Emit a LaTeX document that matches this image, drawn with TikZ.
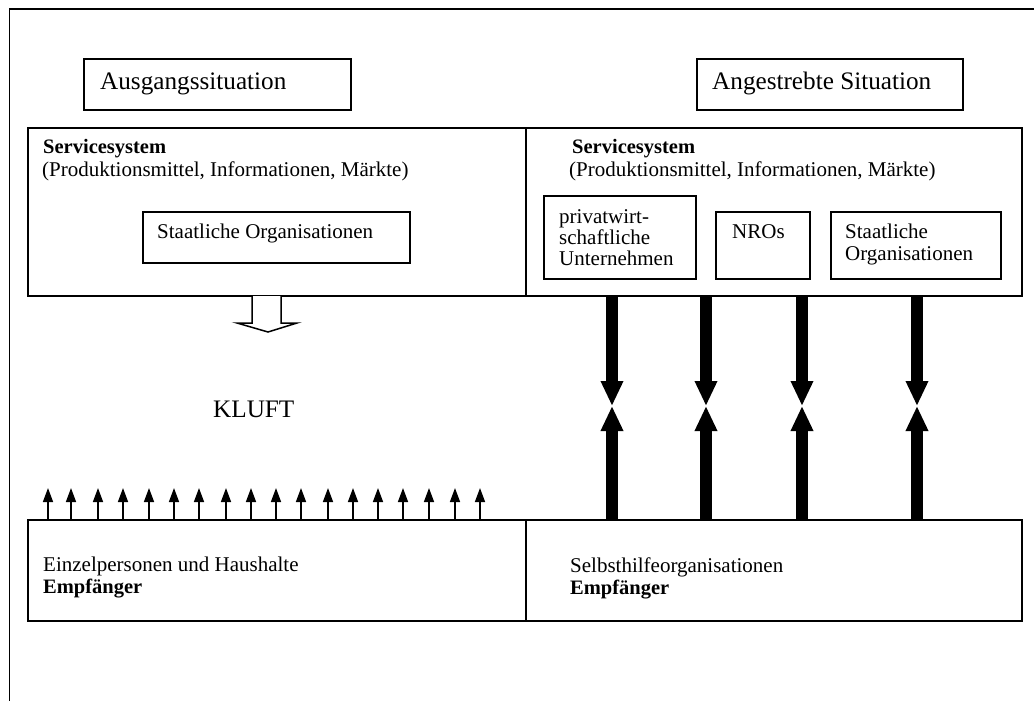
\documentclass[tikz,border=0pt]{standalone}
\usepackage{fontspec}
\setmainfont{Liberation Serif}
\usetikzlibrary{arrows.meta}
\begin{document}
\begin{tikzpicture}[x=1pt,y=-1pt,
  box/.style={draw, line width=1.5pt, anchor=north west, inner sep=0pt, outer sep=0pt},
  txt/.style={anchor=base west, inner sep=0pt, font=\fontsize{21}{24}\selectfont},
  btxt/.style={anchor=base west, inner sep=0pt, font=\fontsize{20.5}{24}\selectfont\bfseries},
  ttl/.style={anchor=base west, inner sep=0pt, font=\fontsize{25.2}{29}\selectfont},
  bigarrow/.style={line width=12pt, -{Triangle[width=21pt,length=25pt]}},
  smallarrow/.style={line width=1.5pt, -{Triangle[width=10pt,length=14pt]}},
  hollow/.style={draw, line width=1.5pt, fill=white, line join=miter}]
\useasboundingbox (0,0) rectangle (1034,701);
% outer frame
\draw[line width=1.5pt] (9.5,701) -- (9.5,9) -- (1034,9);

% title boxes
\node[box, minimum width=267pt, minimum height=51pt] (ausg) at (84,59) {};
\node[ttl] (ausgT) at (100,89) {Ausgangssituation};
\node[box, minimum width=266pt, minimum height=51pt] (angs) at (697,59) {};
\node[ttl] (angsT) at (712,89) {Angestrebte Situation};

% service system boxes
\node[box, minimum width=498pt, minimum height=168pt] (svcL) at (28,128) {};
\node[box, minimum width=496pt, minimum height=168pt] (svcR) at (526,128) {};
\node[btxt] (svcLT1) at (43,153) {Servicesystem};
\node[txt] (svcLT2) at (42,176) {(Produktionsmittel, Informationen, Märkte)};
\node[btxt] (svcRT1) at (572,153) {Servicesystem};
\node[txt] (svcRT2) at (569,176) {(Produktionsmittel, Informationen, Märkte)};

% inner boxes
\node[box, minimum width=267pt, minimum height=51pt] (staL) at (143,212) {};
\node[txt] (staLT) at (157,238) {Staatliche Organisationen};
\node[box, minimum width=152pt, minimum height=83pt] (priv) at (544,196) {};
\node[txt] (privT1) at (559,223) {privatwirt-};
\node[txt] (privT2) at (559,244) {schaftliche};
\node[txt] (privT3) at (559,265) {Unternehmen};
\node[box, minimum width=94pt, minimum height=67pt] (nro) at (716,212) {};
\node[txt] (nroT) at (732,238) {NROs};
\node[box, minimum width=170pt, minimum height=67pt] (staR) at (831,212) {};
\node[txt] (staRT1) at (845,238) {Staatliche};
\node[txt] (staRT2) at (845,260) {Organisationen};

% bottom boxes
\node[box, minimum width=498pt, minimum height=101pt] (empL) at (28,520) {};
\node[box, minimum width=496pt, minimum height=101pt] (empR) at (526,520) {};
\node[txt] (empLT1) at (43,571) {Einzelpersonen und Haushalte};
\node[btxt] (empLT2) at (43,593) {Empfänger};
\node[txt] (empRT1) at (570,572) {Selbsthilfeorganisationen};
\node[btxt] (empRT2) at (570,594) {Empfänger};

% KLUFT
\node[ttl] (kluft) at (213,417) {KLUFT};

% hollow arrow
\draw[hollow] (252,296) -- (252,323) -- (237,323) -- (268,332) -- (297,323) -- (281,323) -- (281,296);

% small arrows
\foreach \x [count=\i] in {48,71,98,123,149,174,199,226,251,276,301,328,353,378,403,429,455,480}{
  \coordinate (sa\i) at (\x,488);
  \draw[smallarrow] (empL.north west -| sa\i) -- (sa\i);
}

% thick double arrows
\foreach \x [count=\i] in {612,706,802,917}{
  \coordinate (mid\i) at (\x,406);
  \draw[bigarrow] (svcR.south west -| mid\i) -- (mid\i);
  \draw[bigarrow] (empR.north west -| mid\i) -- (mid\i);
}
\end{tikzpicture}
\end{document}
